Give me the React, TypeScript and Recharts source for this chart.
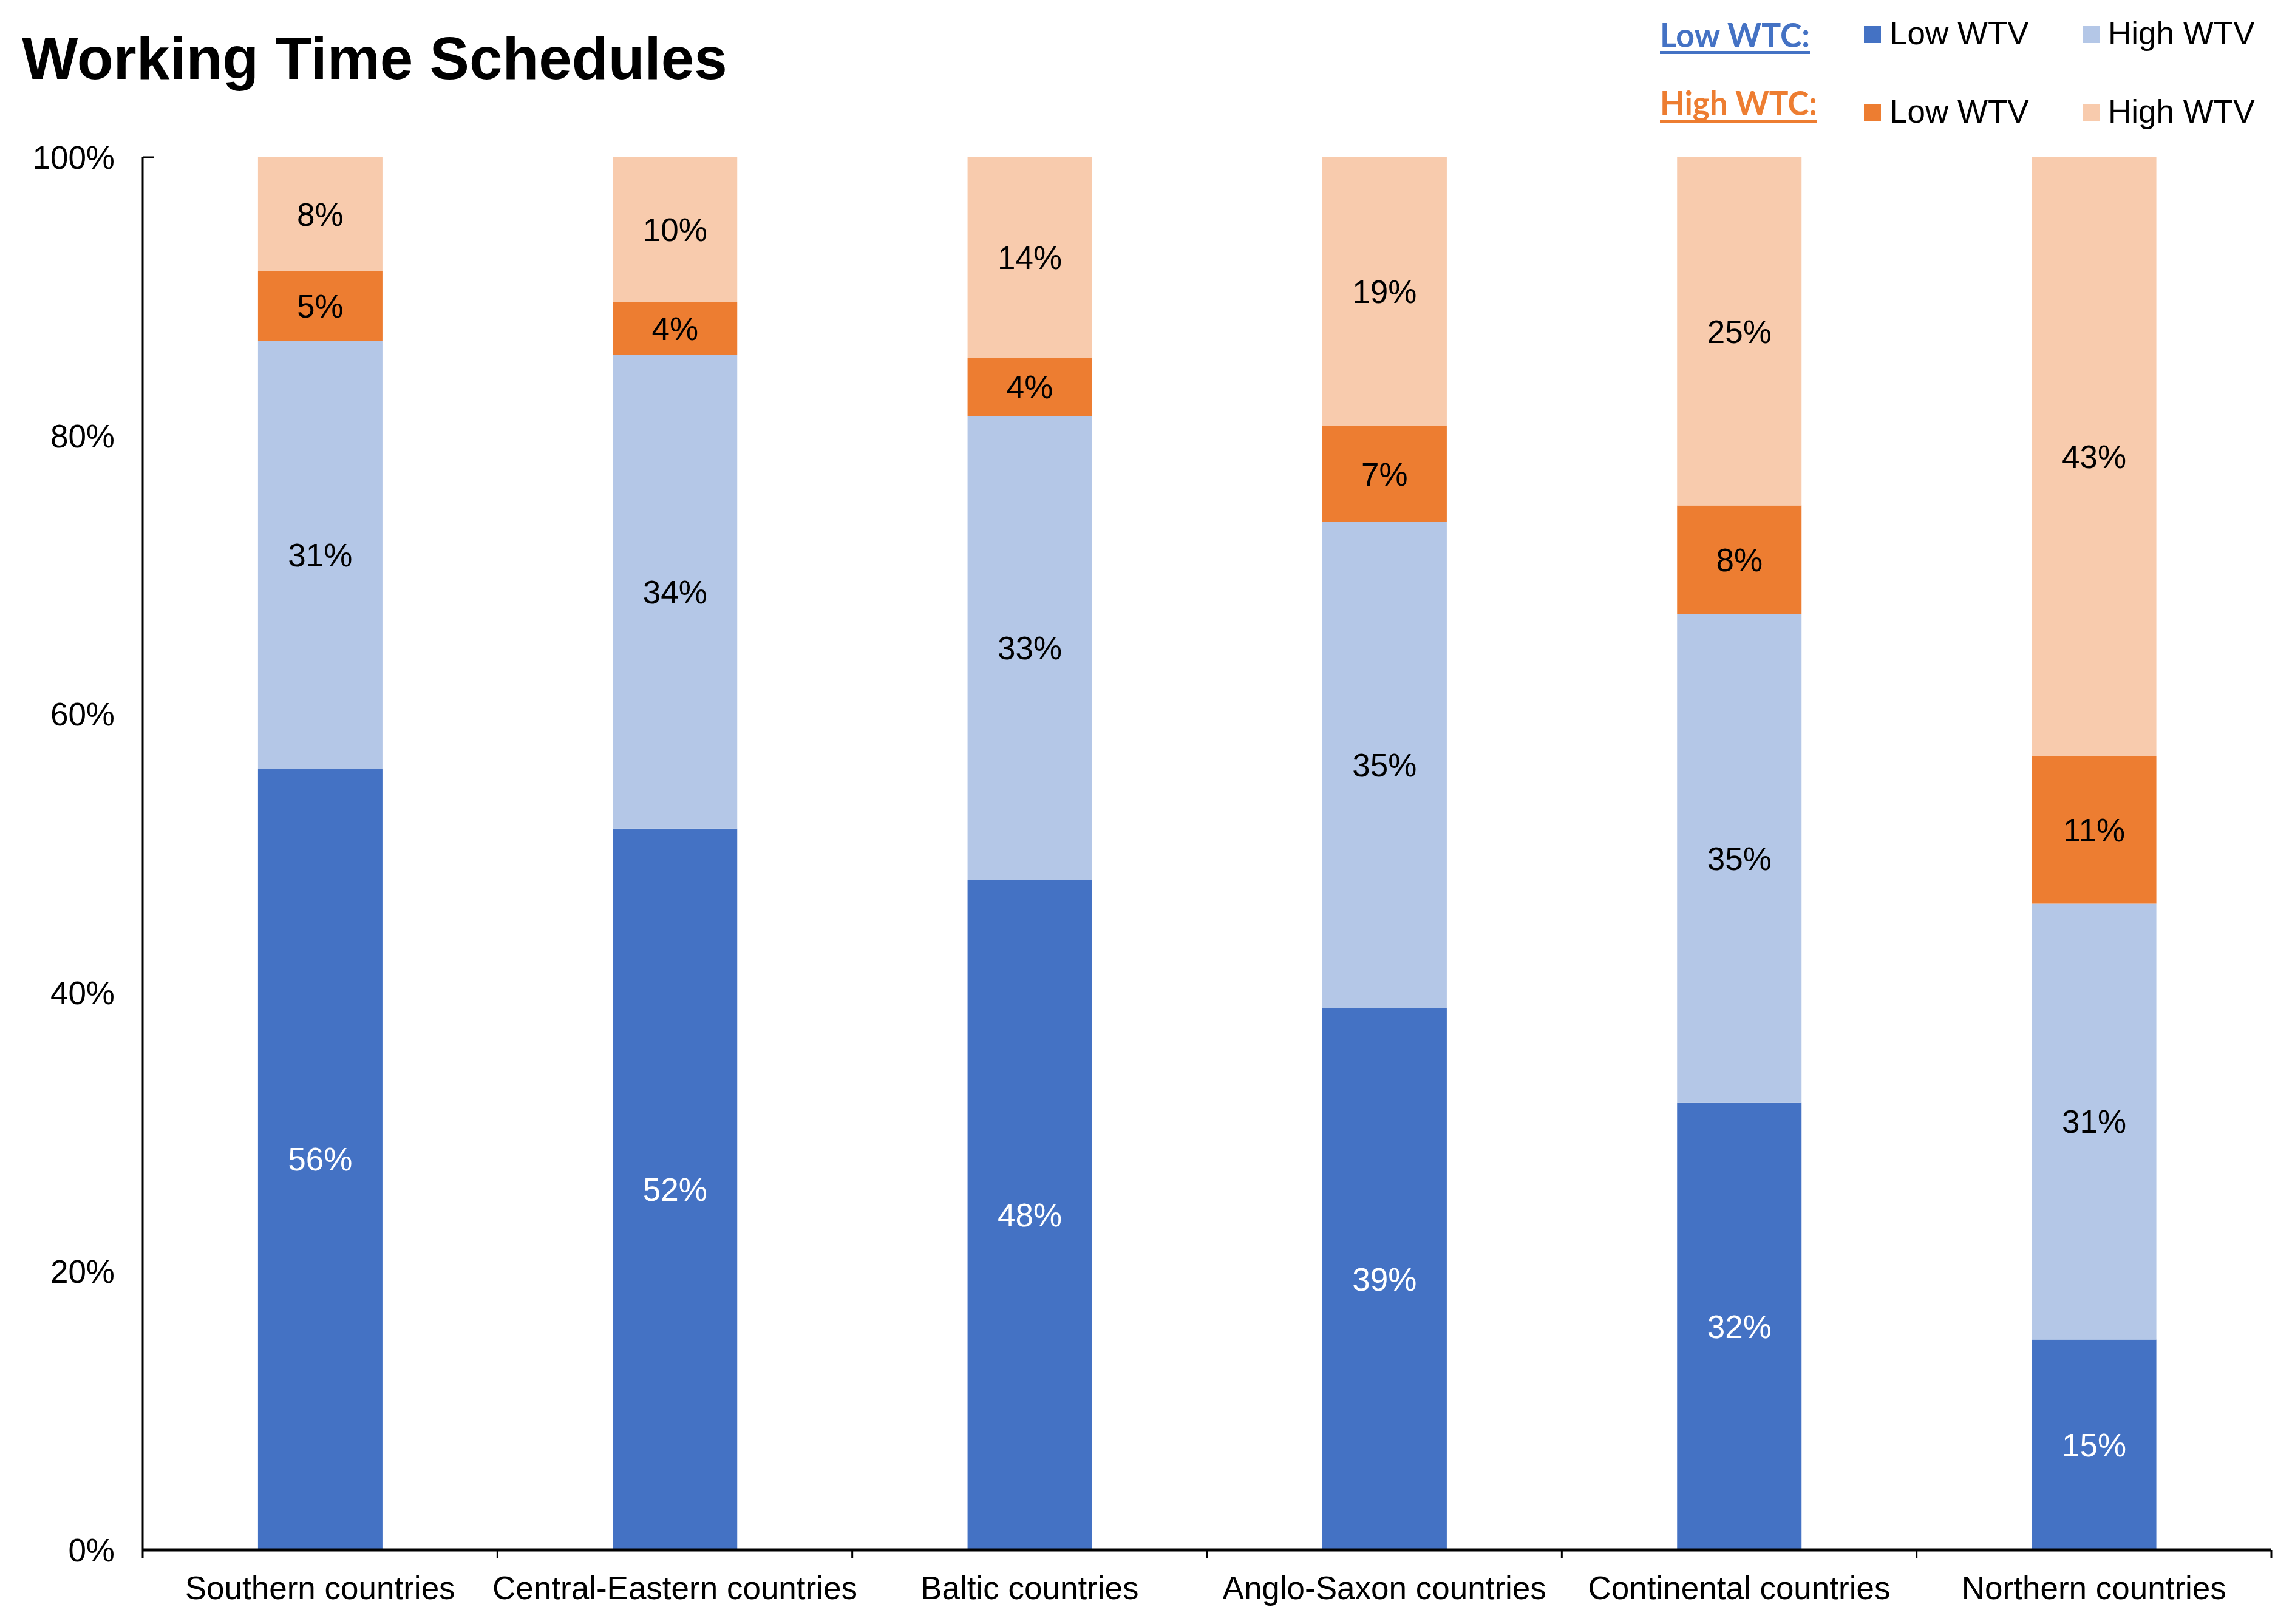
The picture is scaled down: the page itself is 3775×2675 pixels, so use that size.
import React from 'react';
import { BarChart, Bar, XAxis, YAxis, LabelList } from 'recharts';

const categories = [
  'Southern countries',
  'Central-Eastern countries',
  'Baltic countries',
  'Anglo-Saxon countries',
  'Continental countries',
  'Northern countries',
];
const lowWtcLowWtv = [56.1, 51.8, 48.1, 38.9, 32.1, 15.1];
const lowWtcHighWtv = [30.7, 34.0, 33.3, 34.9, 35.1, 31.3];
const highWtcLowWtv = [5.0, 3.8, 4.2, 6.9, 7.8, 10.6];
const highWtcHighWtv = [8.2, 10.4, 14.4, 19.3, 25.0, 43.0];
const yTicks = [0, 20, 40, 60, 80, 100];

const COLORS = {
  darkBlue: '#4472C4',
  lightBlue: '#B4C7E7',
  orange: '#ED7D31',
  lightOrange: '#F8CBAD',
};

const FONT = "'Liberation Sans', Arial, sans-serif";

const data = categories.map((name, i) => ({
  name,
  lowLow: lowWtcLowWtv[i],
  lowHigh: lowWtcHighWtv[i],
  highLow: highWtcLowWtv[i],
  highHigh: highWtcHighWtv[i],
}));

const pct = (v: any) => `${Math.round(Number(v))}%`;

const W = 3775;
const H = 2675;
const X_TICK_LEN = 14;
const LABEL_GAP = 43;

function CategoryTick(props: any) {
  const { x, y, payload, index, visibleTicksCount } = props;
  const half = payload && payload.offset ? payload.offset : 0;
  const last = index === (visibleTicksCount ?? categories.length) - 1;
  return (
    <g>
      <line x1={x - half} x2={x - half} y1={y} y2={y + X_TICK_LEN} stroke="#000" strokeWidth={3} />
      {last && (
        <line x1={x + half} x2={x + half} y1={y} y2={y + X_TICK_LEN} stroke="#000" strokeWidth={3} />
      )}
      <text
        x={x}
        y={y + LABEL_GAP}
        dy="0.71em"
        textAnchor="middle"
        fontSize={53}
        fontFamily={FONT}
        fill="#000"
      >
        {payload.value}
      </text>
    </g>
  );
}

function PercentTick(props: any) {
  const { x, y, payload } = props;
  const isTop = payload.value === yTicks[yTicks.length - 1];
  return (
    <g>
      {isTop && (
        <line x1={x + 46} x2={x + 64} y1={y} y2={y} stroke="#000" strokeWidth={3} />
      )}
      <text
        x={x}
        y={y}
        dy="0.355em"
        textAnchor="end"
        fontSize={53}
        fontFamily={FONT}
        fill="#000"
      >
        {`${payload.value}%`}
      </text>
    </g>
  );
}

export default function App() {
  const labelProps = { fontSize: 53, fontFamily: FONT };
  return (
    <div style={{ position: 'absolute', left: 0, top: 0, width: W, height: H, background: '#fff' }}>
      <BarChart
        width={W}
        height={H}
        data={data}
        margin={{ top: 259, right: 34, bottom: 0, left: 0 }}
        barCategoryGap="32.5%"
      >
        <XAxis
          dataKey="name"
          type="category"
          height={122}
          axisLine={{ stroke: '#000', strokeWidth: 5 }}
          tickLine={false}
          tickSize={0}
          tickMargin={0}
          interval={0}
          tick={<CategoryTick />}
        />
        <YAxis
          width={235}
          domain={[0, 100]}
          ticks={yTicks}
          interval={0}
          axisLine={{ stroke: '#000', strokeWidth: 3 }}
          tickLine={false}
          tickSize={0}
          tickMargin={46}
          tick={<PercentTick />}
        />
        <Bar dataKey="lowLow" stackId="a" fill={COLORS.darkBlue} isAnimationActive={false}>
          <LabelList dataKey="lowLow" position="center" formatter={pct} fill="#fff" {...labelProps} />
        </Bar>
        <Bar dataKey="lowHigh" stackId="a" fill={COLORS.lightBlue} isAnimationActive={false}>
          <LabelList dataKey="lowHigh" position="center" formatter={pct} fill="#000" {...labelProps} />
        </Bar>
        <Bar dataKey="highLow" stackId="a" fill={COLORS.orange} isAnimationActive={false}>
          <LabelList dataKey="highLow" position="center" formatter={pct} fill="#000" {...labelProps} />
        </Bar>
        <Bar dataKey="highHigh" stackId="a" fill={COLORS.lightOrange} isAnimationActive={false}>
          <LabelList dataKey="highHigh" position="center" formatter={pct} fill="#000" {...labelProps} />
        </Bar>
      </BarChart>
      <svg
        width={W}
        height={260}
        style={{ position: 'absolute', left: 0, top: 0, pointerEvents: 'none' }}
      >
        <text x={36} y={130} fontFamily={FONT} fontWeight="bold" fontSize={98} fill="#000">
          Working Time Schedules
        </text>
        <text x={2734} y={78} fontFamily="Lato, 'Open Sans', sans-serif" fontWeight="bold" fontSize={56}
          fill={COLORS.darkBlue} textLength={247} lengthAdjust="spacingAndGlyphs">
          Low WTC:
        </text>
        <rect x={2734} y={84} width={247} height={5} fill={COLORS.darkBlue} />
        <rect x={3070} y={43} width={28} height={28} fill={COLORS.darkBlue} />
        <text x={3112} y={73} fontFamily={FONT} fontSize={53} fill="#000">Low WTV</text>
        <rect x={3430} y={43} width={28} height={28} fill={COLORS.lightBlue} />
        <text x={3472} y={73} fontFamily={FONT} fontSize={53} fill="#000">High WTV</text>
        <text x={2734} y={190} fontFamily="Lato, 'Open Sans', sans-serif" fontWeight="bold" fontSize={56}
          fill={COLORS.orange} textLength={259} lengthAdjust="spacingAndGlyphs">
          High WTC:
        </text>
        <rect x={2734} y={197} width={259} height={5} fill={COLORS.orange} />
        <rect x={3070} y={171} width={28} height={29} fill={COLORS.orange} />
        <text x={3112} y={202} fontFamily={FONT} fontSize={53} fill="#000">Low WTV</text>
        <rect x={3430} y={171} width={28} height={29} fill={COLORS.lightOrange} />
        <text x={3472} y={202} fontFamily={FONT} fontSize={53} fill="#000">High WTV</text>
      </svg>
    </div>
  );
}
